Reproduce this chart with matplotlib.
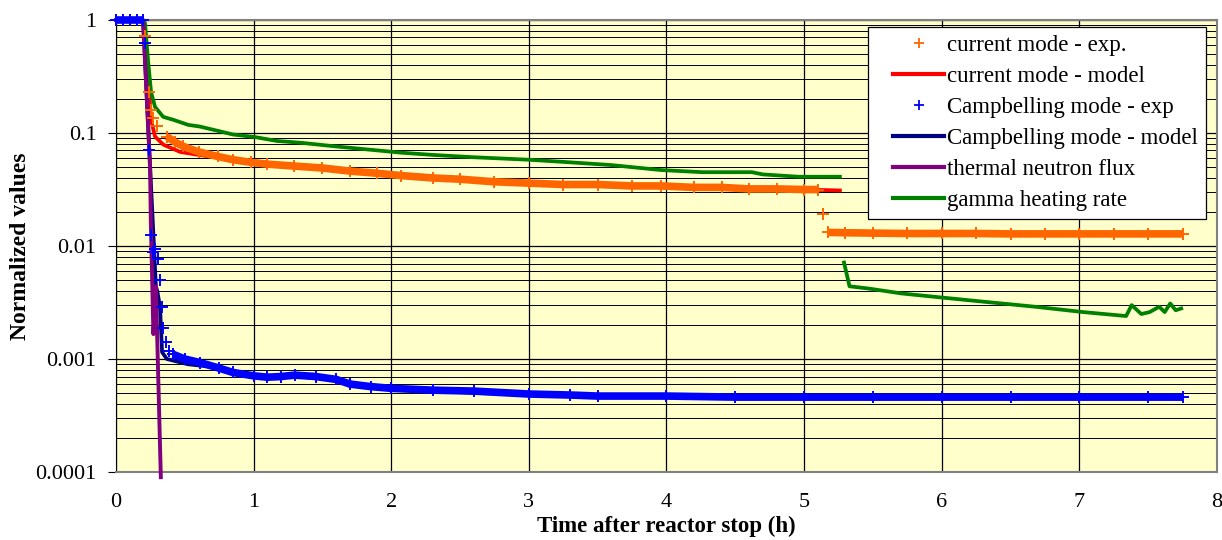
import matplotlib.pyplot as plt
import numpy as np
from matplotlib.lines import Line2D
from matplotlib.legend_handler import HandlerLine2D
from matplotlib.ticker import FuncFormatter, LogLocator

plt.rcParams['font.family'] = ['Liberation Serif', 'DejaVu Serif']

# current mode - exp. (orange +)
cur_exp_t = [0.0, 0.05, 0.1, 0.15, 0.197, 0.211, 0.24, 0.255, 0.27, 0.3, 0.37, 0.43, 0.49,
             0.6, 0.74, 0.85, 0.98, 1.1, 1.29, 1.5, 1.7, 1.9, 2.07, 2.3, 2.5, 2.75, 3.0,
             3.25, 3.5, 3.75, 3.96, 4.2, 4.4, 4.6, 4.8, 5.0, 5.1, 5.14, 5.17, 5.3, 5.5,
             5.75, 6.0, 6.25, 6.5, 6.75, 7.0, 7.25, 7.5, 7.75]
cur_exp_v = [1, 1, 1, 1, 1, 0.72, 0.23, 0.16, 0.135, 0.115, 0.093, 0.083, 0.076,
             0.068, 0.062, 0.058, 0.055, 0.053, 0.051, 0.049, 0.046, 0.044, 0.042, 0.040,
             0.039, 0.037, 0.036, 0.035, 0.035, 0.034, 0.034, 0.033, 0.033, 0.032, 0.032,
             0.0316, 0.0316, 0.019, 0.0132, 0.0131, 0.013, 0.0129, 0.0129, 0.0129, 0.0128,
             0.0128, 0.0128, 0.0128, 0.0128, 0.0128]

# current mode - model (red)
cur_mod_t = [0.0, 0.197, 0.24, 0.255, 0.284, 0.343, 0.466, 0.6, 0.8, 1.0, 1.3, 1.6, 2.0,
             2.5, 3.0, 3.5, 4.0, 4.5, 5.0, 5.26]
cur_mod_v = [1, 1, 0.25, 0.13, 0.093, 0.079, 0.068, 0.064, 0.059, 0.055, 0.051, 0.047,
             0.043, 0.039, 0.036, 0.034, 0.033, 0.032, 0.0316, 0.031]

# Campbelling mode - exp (blue +)
camp_exp_t = [0.0, 0.05, 0.1, 0.15, 0.197, 0.211, 0.24, 0.253, 0.267, 0.284, 0.306, 0.32,
              0.333, 0.343, 0.364, 0.386, 0.415, 0.5, 0.61, 0.75, 0.85, 1.0, 1.1, 1.2, 1.3,
              1.45, 1.6, 1.7, 1.85, 2.0, 2.3, 2.6, 3.0, 3.3, 3.5, 4.0, 4.5, 5.0, 5.5, 6.0,
              6.5, 7.0, 7.5, 7.75]
camp_exp_v = [1, 1, 1, 1, 1, 0.63, 0.071, 0.0126, 0.0088, 0.0095, 0.0076, 0.005,
              0.0029, 0.0019, 0.0014, 0.00117, 0.0011, 0.001, 0.00093, 0.00083, 0.00076,
              0.00071, 0.00069, 0.0007, 0.00072, 0.0007, 0.00066, 0.0006, 0.00057, 0.00055,
              0.00053, 0.00052, 0.00049, 0.00048, 0.00047, 0.00047, 0.00046, 0.00046,
              0.00046, 0.00046, 0.00046, 0.00046, 0.00046, 0.00046]

# Campbelling mode - model (navy)
camp_mod_t = [0.0, 0.197, 0.29, 0.3, 0.32, 0.335, 0.37, 0.52, 0.7, 1.0, 1.5, 2.0, 3.0,
              4.0, 5.26]
camp_mod_v = [1, 1, 0.0044, 0.004, 0.0029, 0.00115, 0.001, 0.0009, 0.00085, 0.00072,
              0.00068, 0.00054, 0.00048, 0.00046, 0.00045]

# thermal neutron flux (purple)
flux_t = [0.0, 0.197, 0.248, 0.253, 0.272, 0.29, 0.326]
flux_v = [1, 1, 0.048, 0.017, 0.00166, 0.0044, 0.00009]

# gamma heating rate (green), NaN marks the break
gamma_t = [0.0, 0.197, 0.211, 0.233, 0.255, 0.284, 0.343, 0.415, 0.525, 0.61, 0.85, 1.01,
           1.17, 1.34, 1.6, 1.8, 2.07, 2.3, 2.6, 3.0, 3.3, 3.6, 3.96, 4.26, 4.62, 4.7,
           4.96, 5.26, 5.27, 5.29, 5.33, 5.47, 5.71, 6.0, 6.32, 6.68, 7.03, 7.34, 7.38,
           7.45, 7.51, 7.58, 7.62, 7.66, 7.7, 7.74]
gamma_v = [1, 1, 0.94, 0.44, 0.23, 0.17, 0.139, 0.131, 0.118, 0.114, 0.097, 0.092,
           0.085, 0.082, 0.076, 0.072, 0.067, 0.064, 0.061, 0.058, 0.055, 0.052, 0.047,
           0.045, 0.045, 0.043, 0.041, 0.041, np.nan, 0.00714, 0.0044, 0.0042, 0.0038,
           0.0035, 0.0032, 0.0029, 0.0026, 0.0024, 0.0030, 0.0025, 0.0026, 0.0029, 0.0026,
           0.0031, 0.0027, 0.0028]

# time ranges where the experimental markers are so dense they form a band
cur_band = [(0.36, 5.11), (5.16, 7.8)]
camp_band = [(0.0, 0.2), (0.4, 7.8)]

fig = plt.figure(figsize=(12.22, 5.4), dpi=100)
ax = fig.add_axes([0.0949, 0.1259, 0.9959 - 0.0949, 0.963 - 0.1259])
ax.set_facecolor('#FFFFCC')


def band(t, v, ranges, color):
    t = np.array(t)
    v = np.array(v)
    for a, b in ranges:
        m = (t >= a) & (t <= b)
        ax.plot(t[m], v[m], color=color, lw=5.5, zorder=4, solid_capstyle='butt',
                clip_on=False)


# models first, experimental markers on top
ax.plot(cur_mod_t, cur_mod_v, color='#FF0000', lw=2.7, zorder=3)
ax.plot(camp_mod_t, camp_mod_v, color='#000080', lw=2.7, zorder=3)
ax.plot(flux_t, flux_v, color='#800080', lw=2.8, zorder=3.5, clip_on=False)
ax.plot(gamma_t, gamma_v, color='#008000', lw=2.7, zorder=3)

band(cur_exp_t, cur_exp_v, cur_band, '#FF6600')
band(camp_exp_t, camp_exp_v, camp_band, '#0000FF')
ax.plot(cur_exp_t, cur_exp_v, ls='none', marker='+', ms=8, mew=1.4, color='#FF6600',
        zorder=5, clip_on=False)
ax.plot(camp_exp_t, camp_exp_v, ls='none', marker='+', ms=8, mew=1.4, color='#0000FF',
        zorder=5, clip_on=False)

ax.set_yscale('log')
ax.set_xlim(0, 8)
ax.set_ylim(0.0001, 1)

ax.yaxis.set_major_locator(LogLocator(base=10))
ax.yaxis.set_minor_locator(LogLocator(base=10, subs=np.arange(2, 10)))
ax.yaxis.set_major_formatter(FuncFormatter(lambda y, p: '%g' % y))
ax.yaxis.set_minor_formatter(FuncFormatter(lambda y, p: ''))
ax.set_xticks(np.arange(0, 9, 1))

ax.grid(True, which='major', axis='both', color='black', lw=0.9, zorder=1)
ax.grid(True, which='minor', axis='y', color='black', lw=0.7, zorder=1)
ax.set_axisbelow(True)

ax.tick_params(axis='y', which='major', length=6, direction='out', labelsize=16, pad=8)
ax.tick_params(axis='y', which='minor', length=0)
ax.tick_params(axis='x', length=0, labelsize=16, pad=15)

for s in ['top', 'right', 'bottom']:
    ax.spines[s].set_color('#808080')
    ax.spines[s].set_linewidth(1.5)
ax.spines['left'].set_color('black')

ax.set_xlabel('Time after reactor stop (h)', fontsize=16.5, fontweight='bold', labelpad=3)
ax.set_ylabel('Normalized values', fontsize=17, fontweight='bold', labelpad=3)

# legend handles in the reference order
h = [
    Line2D([], [], ls='none', marker='+', ms=7, mew=1.3, color='#FF6600'),
    Line2D([], [], color='#FF0000', lw=3),
    Line2D([], [], ls='none', marker='+', ms=7, mew=1.3, color='#0000FF'),
    Line2D([], [], color='#000080', lw=3),
    Line2D([], [], color='#800080', lw=3),
    Line2D([], [], color='#008000', lw=3),
]
labels = ['current mode - exp.', 'current mode - model', 'Campbelling mode - exp',
          'Campbelling mode - model', 'thermal neutron flux', 'gamma heating rate']
leg = ax.legend(h, labels, loc='upper right', bbox_to_anchor=(0.9897, 0.9845),
                fontsize=16.5, frameon=True, fancybox=False, framealpha=1,
                edgecolor='black', handlelength=3.0, handletextpad=0.1,
                labelspacing=0.43, borderpad=0.35, borderaxespad=0,
                handler_map={Line2D: HandlerLine2D(xpad=0.75)})
leg.get_frame().set_linewidth(0.9)
leg.set_zorder(10)

plt.savefig('out.png', dpi=100)
